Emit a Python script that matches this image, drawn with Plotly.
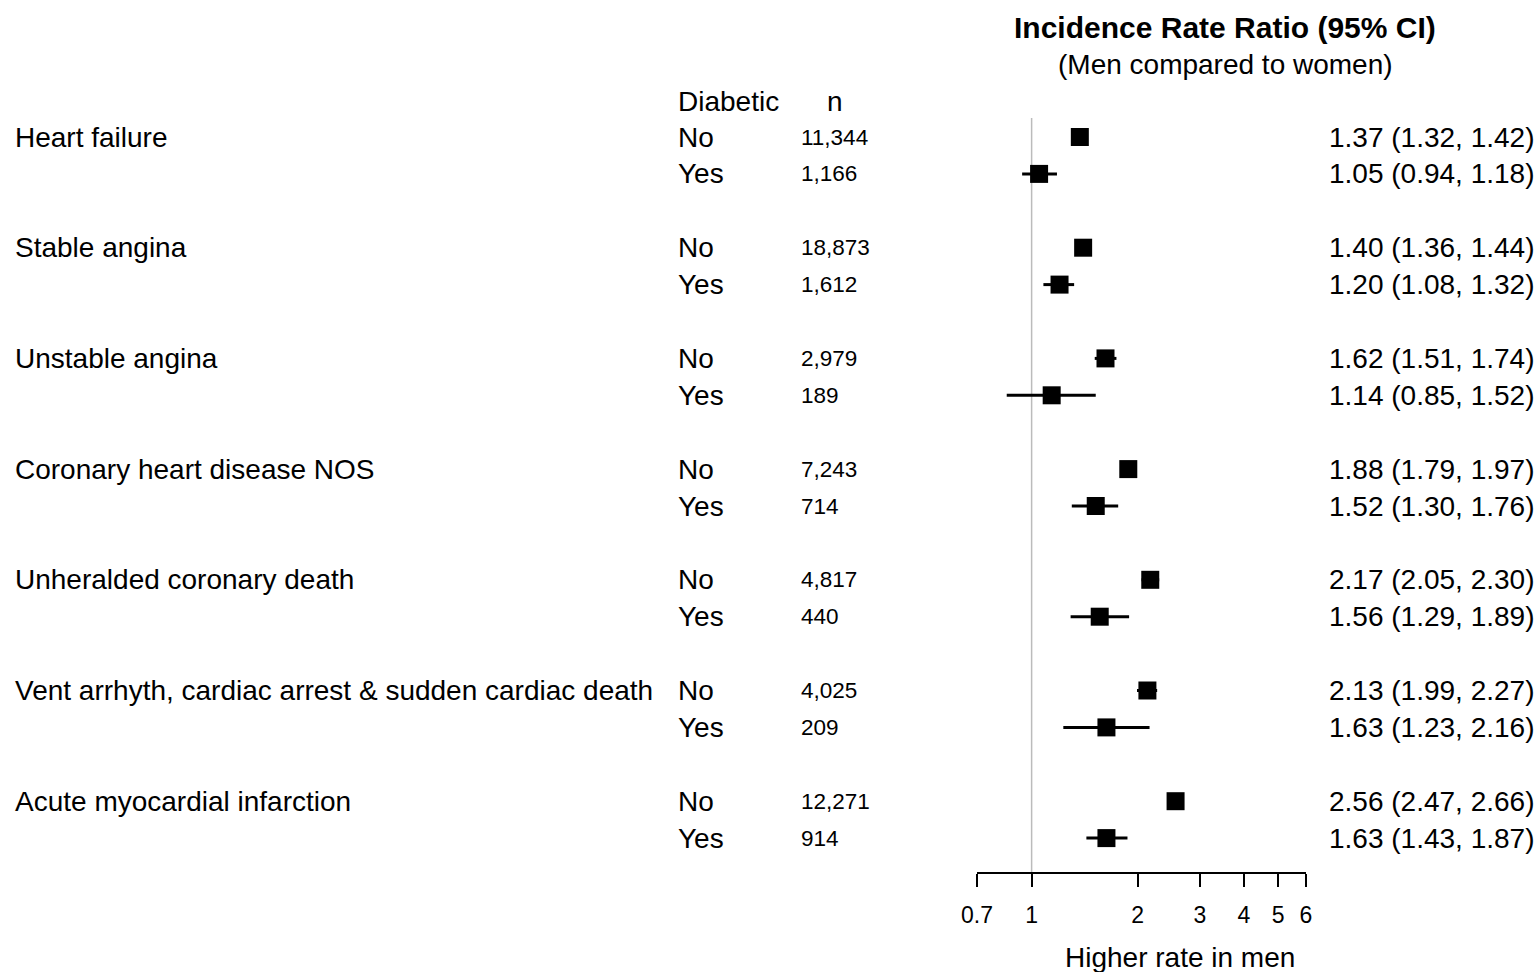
import plotly.graph_objects as go
import math

outcomes = ["Heart failure", "Stable angina", "Unstable angina", "Coronary heart disease NOS",
            "Unheralded coronary death", "Vent arrhyth, cardiac arrest & sudden cardiac death",
            "Acute myocardial infarction"]
n_no = [11344, 18873, 2979, 7243, 4817, 4025, 12271]
n_yes = [1166, 1612, 189, 714, 440, 209, 914]
irr_no = [1.37, 1.40, 1.62, 1.88, 2.17, 2.13, 2.56]
lo_no = [1.32, 1.36, 1.51, 1.79, 2.05, 1.99, 2.47]
hi_no = [1.42, 1.44, 1.74, 1.97, 2.30, 2.27, 2.66]
irr_yes = [1.05, 1.20, 1.14, 1.52, 1.56, 1.63, 1.63]
lo_yes = [0.94, 1.08, 0.85, 1.30, 1.29, 1.23, 1.43]
hi_yes = [1.18, 1.32, 1.52, 1.76, 1.89, 2.16, 1.87]
tick_vals = [0.7, 1, 2, 3, 4, 5, 6]
tick_text = ["0.7", "1", "2", "3", "4", "5", "6"]

W, H = 1539, 972
FONT = "Liberation Sans, Arial, sans-serif"
row_px = 36.9
row0_px = 137.0

def row_of(px):
    return (px - row0_px) / row_px

rows_y, xs, ep, em = [], [], [], []
for i in range(len(outcomes)):
    for r, v, lo, hi in ((3 * i, irr_no[i], lo_no[i], hi_no[i]), (3 * i + 1, irr_yes[i], lo_yes[i], hi_yes[i])):
        rows_y.append(r)
        xs.append(v)
        ep.append(hi - v)
        em.append(v - lo)

fig = go.Figure()
fig.add_trace(go.Scatter(
    x=xs, y=rows_y, mode="markers",
    marker=dict(symbol="square", size=18, color="black", line=dict(width=0)),
    error_x=dict(type="data", symmetric=False, array=ep, arrayminus=em,
                 color="black", thickness=3, width=0),
    showlegend=False, hoverinfo="skip", cliponaxis=False,
))

ann = []
def text(x_px, row, s, size=28, anchor="left", bold=False):
    ann.append(dict(x=x_px / W, xref="paper", y=row, yref="y", text=("<b>%s</b>" % s) if bold else s,
                    showarrow=False, xanchor=anchor, yanchor="middle", align=anchor,
                    borderpad=0, borderwidth=0,
                    font=dict(family=FONT, size=size, color="black")))

for i, name in enumerate(outcomes):
    rn, ry = 3 * i, 3 * i + 1
    text(15, rn, name)
    text(678, rn, "No")
    text(678, ry, "Yes")
    text(801, rn, f"{n_no[i]:,}", size=22.5)
    text(801, ry, f"{n_yes[i]:,}", size=22.5)
    text(1534, rn, f"{irr_no[i]:.2f} ({lo_no[i]:.2f}, {hi_no[i]:.2f})", anchor="right")
    text(1534, ry, f"{irr_yes[i]:.2f} ({lo_yes[i]:.2f}, {hi_yes[i]:.2f})", anchor="right")

text(678, row_of(101), "Diabetic")
text(835, row_of(101), "n", anchor="center")
text(1225, row_of(27), "Incidence Rate Ratio (95% CI)", size=30, anchor="center", bold=True)
text(1225, row_of(64), "(Men compared to women)", anchor="center")
text(1180, row_of(957), "Higher rate in men", anchor="center")

axis_px = 873
fig.update_layout(
    width=W, height=H,
    margin=dict(l=0, r=0, t=0, b=0, pad=0, autoexpand=False),
    paper_bgcolor="white", plot_bgcolor="white",
    annotations=ann,
    shapes=[dict(type="line", xref="x", yref="y", x0=1, x1=1, y0=row_of(118), y1=row_of(axis_px),
                 line=dict(color="#bbbbbb", width=1.5), layer="below")],
    xaxis=dict(type="log", range=[math.log10(0.7), math.log10(6)],
               domain=[977 / W, 1306 / W], anchor="free", position=(H - axis_px) / H,
               showline=True, linecolor="black", linewidth=2,
               ticks="outside", ticklen=13, tickwidth=2, tickcolor="black",
               tickvals=tick_vals, ticktext=tick_text, ticklabelstandoff=8,
               tickfont=dict(family=FONT, size=23, color="black"),
               showgrid=False, zeroline=False, fixedrange=True, automargin=False),
    yaxis=dict(range=[row_of(H), row_of(0)], domain=[0, 1], visible=False,
               showgrid=False, zeroline=False, fixedrange=True, automargin=False),
)

fig.write_html("out.html")
